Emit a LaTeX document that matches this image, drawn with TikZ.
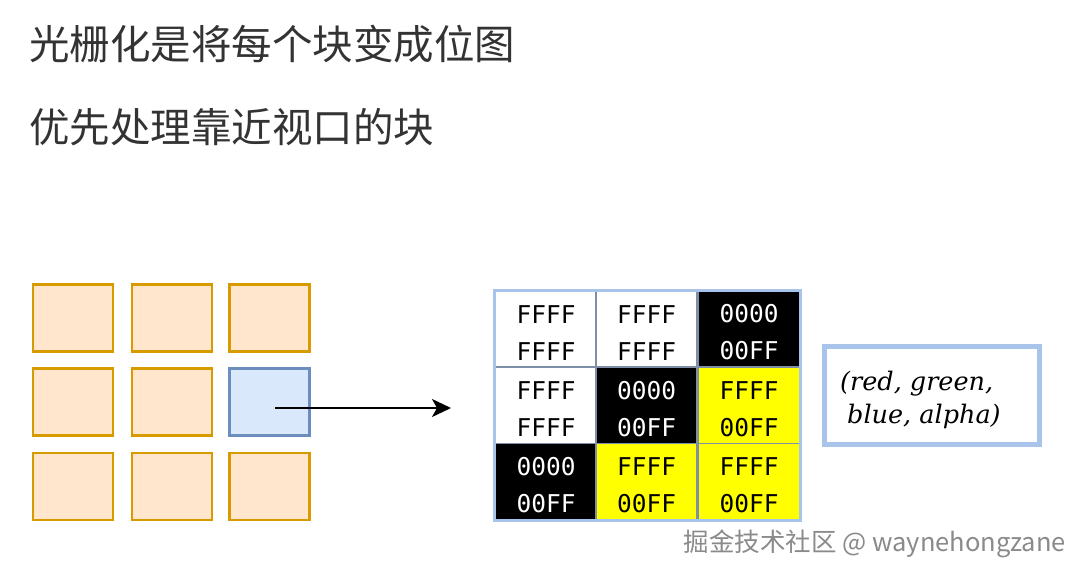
\documentclass[tikz,border=0pt]{standalone}
\usepackage{fontspec}
\newfontfamily\cjkf{Noto Sans CJK SC}
\newfontfamily\monof{DejaVu Sans Mono}
\newfontfamily\serifit{DejaVu Serif}
\usetikzlibrary{arrows.meta}
\definecolor{tileFill}{HTML}{FFE6CC}
\definecolor{tileLine}{HTML}{D79B00}
\definecolor{selFill}{HTML}{DAE8FC}
\definecolor{selLine}{HTML}{6C8EBF}
\definecolor{gridOuter}{HTML}{A9C4EB}
\definecolor{gridInner}{HTML}{7F8FA8}
\definecolor{titleGray}{HTML}{333333}
\definecolor{markGray}{HTML}{8A8A8A}
\definecolor{pixYellow}{HTML}{FFFF00}
\newcommand{\topstrut}{\rule{0pt}{25pt}}
\tikzset{
  tile/.style={draw=tileLine, fill=tileFill, line width=2.2pt, minimum width=80pt, minimum height=67pt, inner sep=0pt},
  seltile/.style={tile, draw=selLine, fill=selFill},
  pixcell/.style={draw=gridInner, line width=1.5pt, minimum width=101pt, minimum height=76pt, inner sep=0pt, align=center, font=\monof\fontsize{24.5}{37}\selectfont},
  pixwhite/.style={pixcell, fill=white, text=black},
  pixblack/.style={pixcell, fill=black, text=white},
  pixyellow/.style={pixcell, fill=pixYellow, text=black},
  title/.style={anchor=west, inner sep=0pt, text=titleGray, font=\cjkf\fontsize{40.5}{48}\selectfont},
  legendbox/.style={draw=gridOuter, line width=4.5pt, fill=white, minimum width=215pt, minimum height=98pt, inner sep=0pt},
  arrowline/.style={line width=2pt, -{Stealth[length=19pt,width=18pt,inset=5pt]}}
}
\begin{document}
\begin{tikzpicture}[x=1pt,y=-1pt]
\useasboundingbox[fill=white] (0,0) rectangle (1083,578);
% titles
\node[title] (t1) at (29,44) {光栅化是将每个块变成位图};
\node[title] (t2) at (29,127) {优先处理靠近视口的块};
% left tile grid
\node[tile] (a11) at (73,318) {};
\node[tile] (a12) at (172,318) {};
\node[tile] (a13) at (269.5,318) {};
\node[tile] (a21) at (73,402) {};
\node[tile] (a22) at (172,402) {};
\node[seltile] (a23) at (269.5,402) {};
\node[tile] (a31) at (73,486.5) {};
\node[tile] (a32) at (172,486.5) {};
\node[tile] (a33) at (269.5,486.5) {};
% arrow
\coordinate (arrstart) at (275,408);
\coordinate (arrend) at (451,408);
\draw[arrowline] (arrstart) -- (arrend);
% pixel grid
\node[pixwhite] (p11) at (546,329) {\topstrut FFFF\\FFFF};
\node[pixwhite] (p12) at (646.5,329) {\topstrut FFFF\\FFFF};
\node[pixblack] (p13) at (749,329) {\topstrut 0000\\00FF};
\node[pixwhite] (p21) at (546,405.5) {\topstrut FFFF\\FFFF};
\node[pixblack] (p22) at (646.5,405.5) {\topstrut 0000\\00FF};
\node[pixyellow] (p23) at (749,405.5) {\topstrut FFFF\\00FF};
\node[pixblack] (p31) at (546,481.5) {\topstrut 0000\\00FF};
\node[pixyellow] (p32) at (646.5,481.5) {\topstrut FFFF\\00FF};
\node[pixyellow] (p33) at (749,481.5) {\topstrut FFFF\\00FF};
\draw[draw=gridOuter, line width=3pt] (p11.north west) rectangle (p33.south east);
% legend box
\node[legendbox] (legend) at (932,395.5) {};
\node[anchor=north west, inner sep=0pt, align=left, font=\serifit\itshape\fontsize{25.5}{33}\selectfont] (legendtxt) at (840,371) {(red, green,\\\hspace{7pt}blue, alpha)};
% watermark
\node[anchor=east, inner sep=0pt, text=markGray, font=\cjkf\fontsize{25.5}{28}\selectfont] (mark) at (1066,544) {掘金技术社区 @ waynehongzane};
\end{tikzpicture}
\end{document}
